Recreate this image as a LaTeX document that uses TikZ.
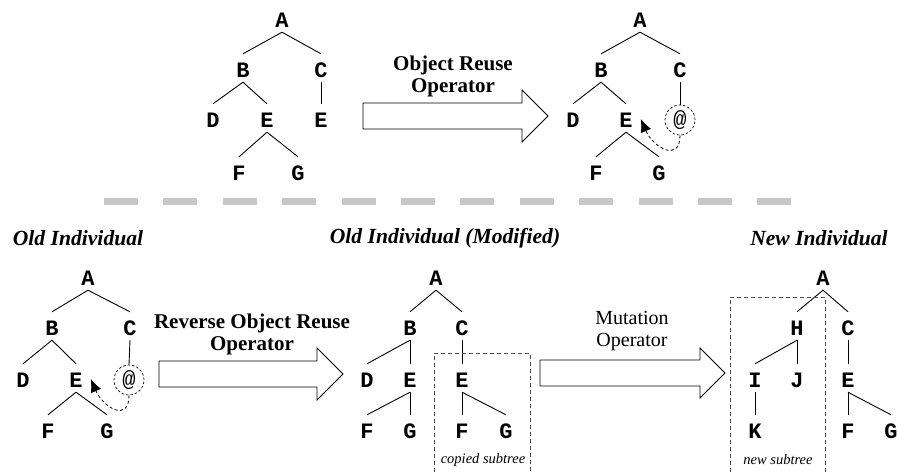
\documentclass[tikz,border=0pt]{standalone}
\usepackage{fontspec}
\setmainfont{Liberation Serif}
\setmonofont{Liberation Mono}
\usetikzlibrary{arrows.meta}

\begin{document}
\begin{tikzpicture}[
        x=1pt, y=-1pt,
        letter/.style={font=\ttfamily\bfseries\fontsize{22}{22}\selectfont, inner sep=0pt, minimum height=24pt},
        atnode/.style={letter, font=\ttfamily\fontsize{22}{22}\selectfont, circle, draw, dash pattern=on 2.5pt off 2pt, line width=0.7pt, minimum size=30pt},
        branch/.style={line width=0.9pt},
        reuse/.style={line width=0.8pt, dash pattern=on 3pt off 2.5pt, -{Latex[length=13pt,width=11pt,sep=0pt]}},
        blockarrow/.style={line width=0.9pt, fill=white},
        oplabel/.style={font=\fontsize{20}{22}\selectfont, align=center},
        title/.style={font=\bfseries\itshape\fontsize{21.6}{22}\selectfont},
        subtree/.style={line width=0.8pt, black!70, dash pattern=on 4pt off 3pt},
        note/.style={font=\itshape\fontsize{14.5}{14.5}\selectfont},
        separator/.style={line width=7pt, black!22, dash pattern=on 34pt off 25.4pt}
    ]
        \useasboundingbox (0,0) rectangle (898,472);

        % Top left tree
        \node[letter] (aA) at (282,20) {A};
        \node[letter] (aB) at (243,70) {B};
        \node[letter] (aC) at (321,70) {C};
        \node[letter] (aD) at (213,120) {D};
        \node[letter] (aE) at (267,120) {E};
        \node[letter] (aE2) at (321,120) {E};
        \node[letter] (aF) at (239,173) {F};
        \node[letter] (aG) at (298,173) {G};
        \draw[branch] (aA.south) -- ([yshift=4pt]aB.north);
        \draw[branch] (aA.south) -- ([yshift=4pt]aC.north);
        \draw[branch] (aB.south) -- ([yshift=4pt]aD.north);
        \draw[branch] (aB.south) -- ([yshift=4pt]aE.north);
        \draw[branch] (aC.south) -- ([yshift=4pt]aE2.north);
        \draw[branch] (aE.south) -- ([yshift=4pt]aF.north);
        \draw[branch] (aE.south) -- ([yshift=4pt]aG.north);

        % Object reuse operator
        \draw[blockarrow] (363,103) -- (522,103) -- (522,90) -- (548,116)
            -- (522,142) -- (522,129) -- (363,129) -- cycle;
        \node[oplabel, font=\bfseries\fontsize{21}{22}\selectfont] (opReuse) at (453,76) {Object Reuse\\Operator};

        % Top right tree
        \node[letter] (bA) at (640,20) {A};
        \node[letter] (bB) at (601,70) {B};
        \node[letter] (bC) at (680,70) {C};
        \node[letter] (bD) at (573,120) {D};
        \node[letter] (bE) at (626,120) {E};
        \node[atnode] (bAt) at (680,120) {@};
        \node[letter] (bF) at (596,173) {F};
        \node[letter] (bG) at (659,173) {G};
        \draw[branch] (bA.south) -- ([yshift=4pt]bB.north);
        \draw[branch] (bA.south) -- ([yshift=4pt]bC.north);
        \draw[branch] (bB.south) -- ([yshift=4pt]bD.north);
        \draw[branch] (bB.south) -- ([yshift=4pt]bE.north);
        \draw[branch] (bC.south) -- (bAt.north);
        \draw[branch] (bE.south) -- ([yshift=4pt]bF.north);
        \draw[branch] (bE.south) -- ([yshift=4pt]bG.north);
        \draw[reuse] (bAt.south) .. controls +(0,28) and +(12,28) .. ([xshift=8pt,yshift=1pt]bE.east);

        % Separator
        \draw[separator] (104,201) -- (792,201);

        % Titles
        \node[title] (tOld) at (78,238) {Old Individual};
        \node[title] (tMod) at (445,238) {Old Individual (Modified)};
        \node[title] (tNew) at (819,238) {New Individual};

        % Old individual
        \node[letter] (cA) at (88,278) {A};
        \node[letter] (cB) at (52,328) {B};
        \node[letter] (cC) at (130,328) {C};
        \node[letter] (cD) at (23,380) {D};
        \node[letter] (cE) at (76,380) {E};
        \node[atnode] (cAt) at (129,380) {@};
        \node[letter] (cF) at (48,431) {F};
        \node[letter] (cG) at (107,431) {G};
        \draw[branch] (cA.south) -- ([yshift=4pt]cB.north);
        \draw[branch] (cA.south) -- ([yshift=4pt]cC.north);
        \draw[branch] (cB.south) -- ([yshift=4pt]cD.north);
        \draw[branch] (cB.south) -- ([yshift=4pt]cE.north);
        \draw[branch] (cC.south) -- (cAt.north);
        \draw[branch] (cE.south) -- ([yshift=4pt]cF.north);
        \draw[branch] (cE.south) -- ([yshift=4pt]cG.north);
        \draw[reuse] (cAt.south) .. controls +(0,28) and +(12,28) .. ([xshift=8pt,yshift=1pt]cE.east);

        % Reverse object reuse operator
        \draw[blockarrow] (159,361) -- (317,361) -- (317,348) -- (343,374)
            -- (317,400) -- (317,387) -- (159,387) -- cycle;
        \node[oplabel, font=\bfseries\fontsize{21}{22}\selectfont] (opReverse) at (252,334) {Reverse Object Reuse\\Operator};

        % Old individual (modified)
        \node[letter] (dA) at (436,278) {A};
        \node[letter] (dB) at (410,328) {B};
        \node[letter] (dC) at (462,328) {C};
        \node[letter] (dD) at (367,380) {D};
        \node[letter] (dE) at (410,380) {E};
        \node[letter] (dE2) at (462,380) {E};
        \node[letter] (dF) at (367,431) {F};
        \node[letter] (dG) at (410,431) {G};
        \node[letter] (dF2) at (462,431) {F};
        \node[letter] (dG2) at (506,431) {G};
        \draw[branch] (dA.south) -- ([yshift=4pt]dB.north);
        \draw[branch] (dA.south) -- ([yshift=4pt]dC.north);
        \draw[branch] (dB.south) -- ([yshift=4pt]dD.north);
        \draw[branch] (dB.south) -- ([yshift=4pt]dE.north);
        \draw[branch] (dC.south) -- ([yshift=4pt]dE2.north);
        \draw[branch] (dE.south) -- ([yshift=4pt]dF.north);
        \draw[branch] (dE.south) -- ([yshift=4pt]dG.north);
        \draw[branch] (dE2.south) -- ([yshift=4pt]dF2.north);
        \draw[branch] (dE2.south) -- ([yshift=4pt]dG2.north);
        \draw[subtree] (434,472) -- (434,353) -- (530,353) -- (530,472);
        \node[note] (nCopied) at (483,460) {copied subtree};

        % Mutation operator
        \draw[blockarrow] (540,360) -- (700,360) -- (700,348) -- (725,373)
            -- (700,398) -- (700,386) -- (540,386) -- cycle;
        \node[oplabel] (opMutation) at (632,331) {Mutation\\Operator};

        % New individual
        \node[letter] (eA) at (823,278) {A};
        \node[letter] (eH) at (797,328) {H};
        \node[letter] (eC) at (848,328) {C};
        \node[letter] (eI) at (755,380) {I};
        \node[letter] (eJ) at (797,380) {J};
        \node[letter] (eE) at (848,380) {E};
        \node[letter] (eK) at (755,431) {K};
        \node[letter] (eF) at (848,431) {F};
        \node[letter] (eG) at (891,431) {G};
        \draw[branch] (eA.south) -- ([yshift=4pt]eH.north);
        \draw[branch] (eA.south) -- ([yshift=4pt]eC.north);
        \draw[branch] (eH.south) -- ([yshift=4pt]eI.north);
        \draw[branch] (eH.south) -- ([yshift=4pt]eJ.north);
        \draw[branch] (eC.south) -- ([yshift=4pt]eE.north);
        \draw[branch] (eI.south) -- ([yshift=4pt]eK.north);
        \draw[branch] (eE.south) -- ([yshift=4pt]eF.north);
        \draw[branch] (eE.south) -- ([yshift=4pt]eG.north);
        \draw[subtree] (730,472) -- (730,297) -- (825,297) -- (825,472);
        \node[note] (nNew) at (778,460) {new subtree};

    \end{tikzpicture}
\end{document}
